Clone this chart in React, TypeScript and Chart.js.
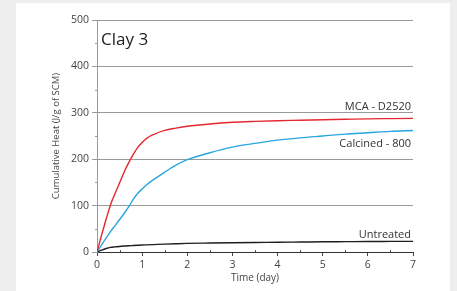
import React, { useEffect, useRef } from "react";
import { Chart, registerables } from "chart.js";

Chart.register(...registerables);

const days = [0, 0.1, 0.2, 0.3, 0.4, 0.5, 0.6, 0.7, 0.8, 0.9, 1.0, 1.1, 1.25, 1.5, 1.75, 2, 2.5, 3, 3.5, 4, 4.5, 5, 5.5, 6, 6.5, 7];
const mcaD2520 = [0, 36, 70, 102, 126, 149, 172, 192, 210, 225, 236, 245, 253, 262, 267, 271, 276, 279.5, 281.5, 283, 284, 285, 286, 287, 287.5, 288];
const calcined800 = [0, 15, 30, 44, 57, 70, 83, 97, 113, 126, 136, 145, 156, 172, 187, 199, 214, 226, 234, 241, 246, 250, 254, 257, 260, 262];
const untreated = [0, 4, 7.5, 10, 11, 12, 12.8, 13.5, 14, 14.5, 15, 15.4, 16, 17, 17.8, 18.5, 19.3, 20, 20.6, 21, 21.5, 22, 22.3, 22.6, 22.8, 23];
const seriesNames = ["MCA - D2520", "Calcined - 800", "Untreated"];
const chartTitle = "Clay 3";

const FONT = "'Open Sans', sans-serif";

const toXY = (arr: number[]) => arr.map((v, i) => ({ x: days[i], y: v }));

const annotatePlugin = {
  id: "annotate",
  afterDraw(chart: any) {
    const { ctx, chartArea, scales } = chart;
    const xs = scales.x;
    const ys = scales.y;
    ctx.save();
    // minor ticks
    ctx.strokeStyle = "#9a9a9a";
    ctx.lineWidth = 1;
    for (let v = 50; v < 500; v += 100) {
      const py = Math.round(ys.getPixelForValue(v)) + 0.5;
      ctx.beginPath();
      ctx.moveTo(chartArea.left - 2, py);
      ctx.lineTo(chartArea.left, py);
      ctx.stroke();
    }
    ctx.strokeStyle = "#555";
    for (let v = 0.5; v < 7; v += 1) {
      const px = Math.round(xs.getPixelForValue(v)) + 0.5;
      ctx.beginPath();
      ctx.moveTo(px, chartArea.bottom);
      ctx.lineTo(px, chartArea.bottom - 2);
      ctx.stroke();
    }
    // title
    ctx.fillStyle = "#222";
    ctx.font = `17px ${FONT}`;
    ctx.textAlign = "left";
    ctx.textBaseline = "alphabetic";
    ctx.fillText(chartTitle, chartArea.left + 4, chartArea.top + 25);
    // series labels
    ctx.font = `11px ${FONT}`;
    ctx.fillStyle = "#333";
    ctx.textAlign = "right";
    const offsets = [-8, 17, -3];
    const lasts = [mcaD2520, calcined800, untreated].map((a) => a[a.length - 1]);
    seriesNames.forEach((name, i) => {
      const py = ys.getPixelForValue(lasts[i]) + offsets[i];
      ctx.fillText(name, chartArea.right - 2, py);
    });
    ctx.restore();
  },
};

export default function App() {
  const ref = useRef<HTMLCanvasElement>(null);
  useEffect(() => {
    if (!ref.current) return;
    const chart = new Chart(ref.current, {
      type: "line",
      data: {
        datasets: [
          { label: seriesNames[0], data: toXY(mcaD2520), borderColor: "#e3282f", borderWidth: 1.4, pointRadius: 0, cubicInterpolationMode: "monotone" },
          { label: seriesNames[1], data: toXY(calcined800), borderColor: "#27a6df", borderWidth: 1.4, pointRadius: 0, cubicInterpolationMode: "monotone" },
          { label: seriesNames[2], data: toXY(untreated), borderColor: "#1e1e1e", borderWidth: 1.4, pointRadius: 0, cubicInterpolationMode: "monotone" },
        ],
      },
      options: {
        animation: false,
        responsive: false,
        maintainAspectRatio: false,
        layout: { padding: { left: 0, right: 44, top: 20, bottom: 0 } },
        plugins: { legend: { display: false }, tooltip: { enabled: false } },
        scales: {
          x: {
            type: "linear",
            min: 0,
            max: 7,
            ticks: { stepSize: 1, color: "#444", font: { family: FONT, size: 10.5 }, padding: 3, maxRotation: 0 },
            grid: { drawOnChartArea: false, drawTicks: true, tickLength: 4, color: "#444" },
            border: { color: "#333", width: 1 },
            title: { display: true, text: "Time (day)", color: "#444", font: { family: FONT, size: 10 }, padding: { top: 0, bottom: 7 } },
            afterFit: (s: any) => { s.height = 39; },
          },
          y: {
            min: 0,
            max: 500,
            ticks: { stepSize: 100, color: "#444", font: { family: FONT, size: 10.5 }, padding: 3 },
            grid: { color: "#9a9a9a", tickLength: 5, tickColor: "#9a9a9a" },
            border: { color: "#9a9a9a", width: 1 },
            title: { display: true, text: "Cumulative Heat (J/g of SCM)", color: "#444", font: { family: FONT, size: 9.5 }, padding: { top: 51, bottom: 0 } },
            afterFit: (s: any) => { s.width = 97; },
          },
        },
      },
      plugins: [annotatePlugin],
    } as any);
    return () => chart.destroy();
  }, []);
  return (
    <div style={{ position: "fixed", left: 0, top: 0, width: 457, height: 291, background: "#eeeeee", overflow: "hidden" }}>
      <div style={{ position: "absolute", left: 16, top: 3, width: 434, height: 288, background: "#ffffff" }} />
      <canvas ref={ref} width={457} height={291} style={{ position: "absolute", left: 0, top: 0, width: 457, height: 291 }} />
    </div>
  );
}
